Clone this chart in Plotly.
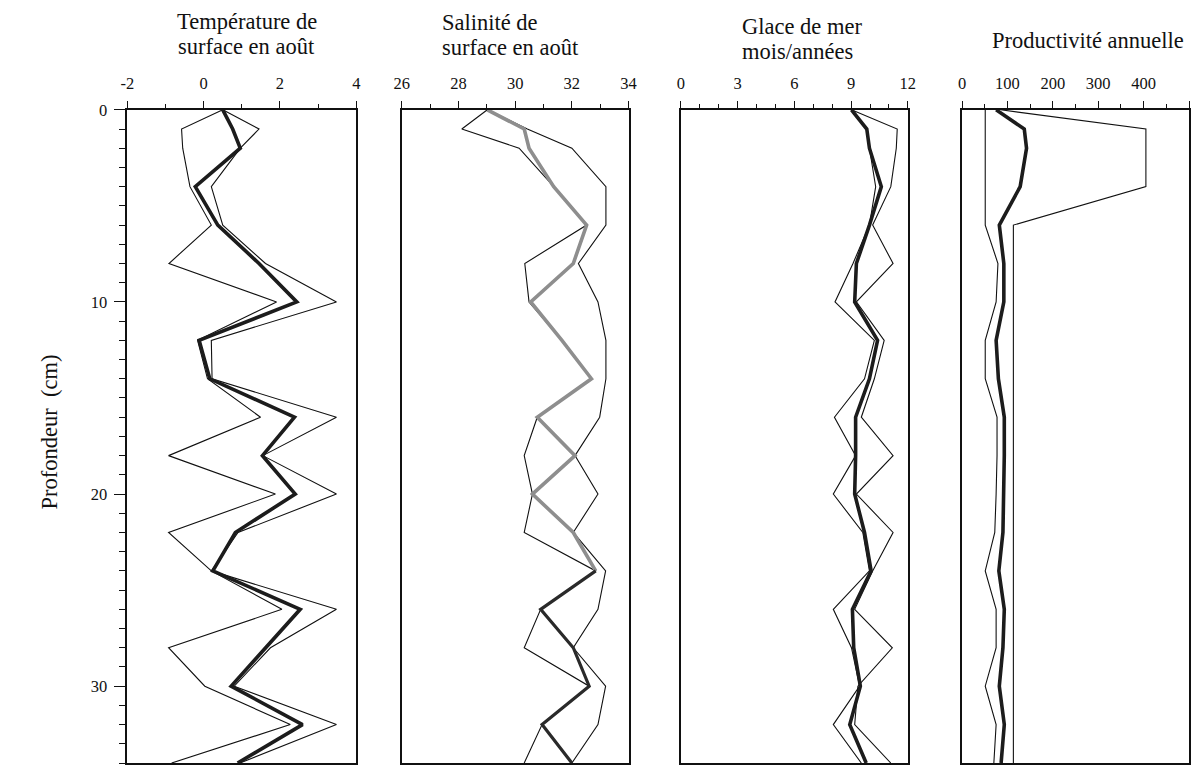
import plotly.graph_objects as go

# Sample depths down the core (cm)
depth_cm = [0, 1, 2, 4, 6, 8, 10, 12, 14, 16, 18, 20, 22, 24, 26, 28, 30, 32, 34]

# August sea-surface temperature (°C): reconstruction and its envelope
temp_mean = [0.5, 0.76, 0.96, -0.22, 0.37, 1.45, 2.44, -0.12, 0.16, 2.38,
             1.54, 2.4, 0.83, 0.24, 2.53, 1.62, 0.72, 2.59, 0.89]
temp_max = [0.5, 1.45, 0.96, 0.2, 0.5, 1.62, 3.48, 0.2, 0.22, 3.48,
            1.55, 3.48, 0.9, 0.2, 3.48, 1.75, 0.8, 3.48, 0.95]
temp_min = [0.5, -0.58, -0.55, -0.36, 0.2, -0.91, 1.91, -0.16, 0.1, 1.49,
            -0.92, 1.88, -0.92, 0.2, 2.05, -0.92, 0.03, 2.27, -0.84]

# August sea-surface salinity
sal_mean = [29.02, 30.32, 30.49, 31.36, 32.52, 32.05, 30.55, 31.65, 32.69, 30.78,
            32.11, 30.61, 32.05, 32.84, 30.9, 32.05, 32.61, 30.95, 32.0]
sal_max = [29.02, 30.43, 32.0, 33.2, 33.2, 32.23, 32.92, 33.2, 33.2, 32.98,
           32.11, 32.92, 32.05, 33.19, 32.92, 32.05, 33.19, 32.92, 32.0]
sal_min = [29.02, 28.12, 30.14, 31.36, 32.52, 30.34, 30.49, 31.65, 32.69, 30.78,
           30.32, 30.61, 30.32, 32.84, 30.9, 30.32, 32.61, 30.95, 30.32]

# Sea-ice cover (months/year)
ice_mean = [9.02, 9.83, 9.97, 10.6, 9.97, 9.28, 9.19, 10.4, 9.97, 9.24,
            9.24, 9.19, 9.71, 10.06, 9.07, 9.14, 9.49, 8.93, 9.8]
ice_max = [9.02, 11.44, 11.39, 11.1, 10.14, 11.22, 9.28, 10.75, 10.23, 9.54,
           11.22, 9.28, 11.22, 10.14, 9.19, 11.18, 9.36, 9.19, 11.1]
ice_min = [9.02, 9.8, 9.97, 10.3, 9.97, 9.1, 8.15, 10.23, 9.71, 8.12,
           9.24, 8.06, 9.62, 9.97, 8.06, 9.02, 9.45, 8.06, 9.54]

# Annual productivity
prod_mean = [75, 137, 142, 128, 82, 92, 92, 75, 80, 93,
             93, 92, 90, 81, 93, 90, 82, 93, 86]
prod_min = [51, 51, 51, 51, 51, 79, 75, 51, 51, 77,
            77, 75, 72, 51, 75, 75, 51, 75, 70]
prod_max = [85, 405, 405, 405, 113, 113, 113, 113, 113, 113,
            113, 113, 113, 113, 113, 113, 113, 113, 113]

# Axis tick values and labels
temp_ticks = [-2, 0, 2, 4]
temp_ticktext = ["-2", "0", "2", "4"]
sal_ticks = [26, 28, 30, 32, 34]
ice_ticks = [0, 3, 6, 9, 12]
prod_ticks = [0, 100, 200, 300, 400, 500]
prod_ticktext = ["0", "100", "200", "300", "400", ""]
depth_ticks = [0, 10, 20, 30]

W, H = 1198, 765
SERIF = "Liberation Serif"
INK = "#111111"
THICK = "#1c1c1c"

def px(x):
    return x / W

def py(y):
    return 1 - y / H

panel_x = [(121, 353), (399, 629), (682, 912), (967, 1197)]
y_dom = [py(763), py(102)]

fig = go.Figure()

panels = [
    (temp_min, temp_max, temp_mean),
    (sal_min, sal_max, sal_mean),
    (ice_min, ice_max, ice_mean),
    (prod_min, prod_max, prod_mean),
]

for i, (lo, hi, mid) in enumerate(panels):
    sfx = "" if i == 0 else str(i + 1)
    for env in (lo, hi):
        fig.add_trace(go.Scatter(x=env, y=depth_cm, mode="lines",
                                 line=dict(color=INK, width=1.1),
                                 xaxis="x" + sfx, yaxis="y" + sfx,
                                 showlegend=False, hoverinfo="skip"))
    if i == 1:
        # salinity reconstruction: grey upper section, dark lower section
        cut = depth_cm.index(24)
        fig.add_trace(go.Scatter(x=mid[:cut + 1], y=depth_cm[:cut + 1], mode="lines",
                                 line=dict(color="#8e8e8e", width=3.6),
                                 xaxis="x2", yaxis="y2", showlegend=False))
        fig.add_trace(go.Scatter(x=mid[cut:], y=depth_cm[cut:], mode="lines",
                                 line=dict(color="#2a2a2a", width=3.2),
                                 xaxis="x2", yaxis="y2", showlegend=False))
    else:
        fig.add_trace(go.Scatter(x=mid, y=depth_cm, mode="lines",
                                 line=dict(color=THICK, width=3.6),
                                 xaxis="x" + sfx, yaxis="y" + sfx,
                                 showlegend=False))

x_specs = [
    dict(range=[-2, 4], tickvals=temp_ticks, ticktext=temp_ticktext, minor=1),
    dict(range=[26, 34], tickvals=sal_ticks, minor=1),
    dict(range=[0, 12], tickvals=ice_ticks, minor=1),
    dict(range=[0, 500], tickvals=prod_ticks, ticktext=prod_ticktext, minor=50),
]

layout = dict(
    width=W, height=H,
    margin=dict(l=0, r=0, t=0, b=0),
    paper_bgcolor="white", plot_bgcolor="white",
    showlegend=False,
    font=dict(family=SERIF, color=INK, size=16),
)

for i, spec in enumerate(x_specs):
    sfx = "" if i == 0 else str(i + 1)
    x0, x1 = panel_x[i]
    xa = dict(
        domain=[px(x0), px(x1)], range=spec["range"], side="top",
        anchor="y" + sfx, showgrid=False, zeroline=False,
        showline=True, mirror=True, linecolor=INK, linewidth=1.6,
        ticks="outside", ticklen=7, tickwidth=1.4, tickcolor=INK,
        tickmode="array", tickvals=spec["tickvals"],
        ticklabelstandoff=5,
        minor=dict(ticks="outside", ticklen=4, tickwidth=1.2, tickcolor=INK,
                   dtick=spec["minor"], showgrid=False),
        tickfont=dict(family=SERIF, size=16.5, color=INK),
        fixedrange=True,
    )
    if "ticktext" in spec:
        xa["ticktext"] = spec["ticktext"]
    layout["xaxis" + sfx] = xa

    ya = dict(
        domain=y_dom, range=[34, 0], anchor="x" + sfx,
        showgrid=False, zeroline=False,
        showline=True, mirror=True, linecolor=INK, linewidth=1.6,
        fixedrange=True,
    )
    if i == 0:
        ya.update(
            ticks="outside", ticklen=12, tickwidth=1.4, tickcolor=INK,
            tickmode="array", tickvals=depth_ticks,
            ticklabelstandoff=3,
            minor=dict(ticks="outside", ticklen=7, tickwidth=1.2,
                       tickcolor=INK, dtick=1, showgrid=False),
            tickfont=dict(family=SERIF, size=16.5, color=INK),
        )
    else:
        ya.update(matches="y", showticklabels=False, ticks="")
    layout["yaxis" + sfx] = ya

fig.update_layout(**layout)

# Panel titles
titles = [
    ("Température de", 242, 12.5, "center"),
    ("surface en août", 242, 37.5, "center"),
    ("Salinité de", 438, 14, "left"),
    ("surface en août", 438, 39, "left"),
    ("Glace de mer", 742, 17.5, "left"),
    ("mois/années", 742, 42.5, "left"),
    ("Productivité annuelle", 995, 32, "left"),
]
for text, x, y, anchor in titles:
    fig.add_annotation(text=text, x=px(x), y=py(y), xref="paper", yref="paper",
                       xanchor=anchor, yanchor="middle", showarrow=False,
                       font=dict(family=SERIF, size=22.5, color=INK))

fig.add_annotation(text="Profondeur  (cm)", x=px(43), y=py(428),
                   xref="paper", yref="paper", textangle=-90,
                   xanchor="center", yanchor="middle", showarrow=False,
                   font=dict(family=SERIF, size=22.5, color=INK))

fig.write_html("out.html")
